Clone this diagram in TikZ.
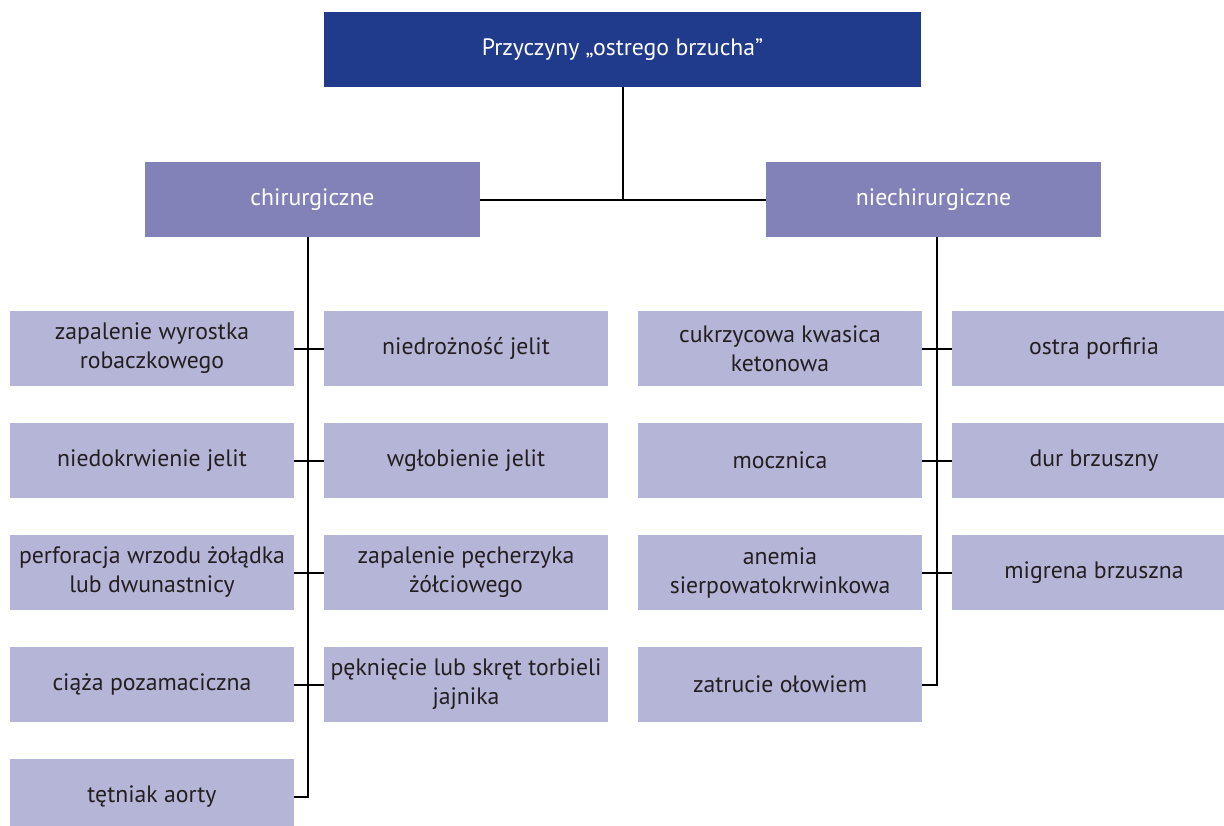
\documentclass[tikz,border=0pt]{standalone}
\usepackage{fontspec}
\setmainfont{PT Sans}
\definecolor{topblue}{RGB}{32,58,140}
\definecolor{midblue}{RGB}{130,130,185}
\definecolor{lightblue}{RGB}{181,181,216}
\definecolor{textdark}{RGB}{35,31,32}
\tikzset{
  boxfont/.style={font=\fontsize{17.8}{21.75}\selectfont},
  topbox/.style={boxfont, fill=topblue, text=white, minimum width=447.75pt, minimum height=56.25pt, inner sep=0pt, align=center},
  catbox/.style={boxfont, fill=midblue, text=white, minimum width=251.25pt, minimum height=56.25pt, inner sep=0pt, align=center},
  leafbox/.style={boxfont, fill=lightblue, text=textdark, minimum width=213pt, minimum height=56.25pt, inner sep=0pt, align=center},
  conn/.style={draw=black, line width=1.5pt}
}
\begin{document}
\begin{tikzpicture}[x=0.75pt, y=-0.75pt]
\useasboundingbox (0,0) rectangle (1224,825);
\clip (0,0) rectangle (1224,825);
% top
\node[topbox] (top) at (622.5,49.5) {Przyczyny „ostrego brzucha”};
\node[catbox] (chir) at (312.5,199.5) {chirurgiczne};
\node[catbox] (niech) at (933.5,199.5) {niechirurgiczne};
% left group
\node[leafbox] (a1) at (152,348.5) {zapalenie wyrostka\\robaczkowego};
\node[leafbox] (b1) at (466,348.5) {niedrożność jelit};
\node[leafbox] (a2) at (152,460.5) {niedokrwienie jelit};
\node[leafbox] (b2) at (466,460.5) {wgłobienie jelit};
\node[leafbox] (a3) at (152,572.5) {perforacja wrzodu żołądka\\lub dwunastnicy};
\node[leafbox] (b3) at (466,572.5) {zapalenie pęcherzyka\\żółciowego};
\node[leafbox] (a4) at (152,684.5) {ciąża pozamaciczna};
\node[leafbox] (b4) at (466,684.5) {pęknięcie lub skręt torbieli\\jajnika};
\node[leafbox] (a5) at (152,796.5) {tętniak aorty};
% right group
\node[leafbox] (c1) at (780,348.5) {cukrzycowa kwasica\\ketonowa};
\node[leafbox] (d1) at (1094,348.5) {ostra porfiria};
\node[leafbox] (c2) at (780,460.5) {mocznica};
\node[leafbox] (d2) at (1094,460.5) {dur brzuszny};
\node[leafbox] (c3) at (780,572.5) {anemia\\sierpowatokrwinkowa};
\node[leafbox] (d3) at (1094,572.5) {migrena brzuszna};
\node[leafbox] (c4) at (780,684.5) {zatrucie ołowiem};
% connectors
\coordinate (j) at (622.5,199.5);
\draw[conn] (top.south) -- (j);
\draw[conn] (chir.east) -- (niech.west);
\coordinate (vL) at (308,237);
\coordinate (vR) at (937,237);
\draw[conn] (vL) |- (a5.east);
\draw[conn] (vR) |- (c4.east);
\draw[conn] (a1.east) -- (b1.west);
\draw[conn] (a2.east) -- (b2.west);
\draw[conn] (a3.east) -- (b3.west);
\draw[conn] (a4.east) -- (b4.west);
\draw[conn] (c1.east) -- (d1.west);
\draw[conn] (c2.east) -- (d2.west);
\draw[conn] (c3.east) -- (d3.west);
\end{tikzpicture}
\end{document}
